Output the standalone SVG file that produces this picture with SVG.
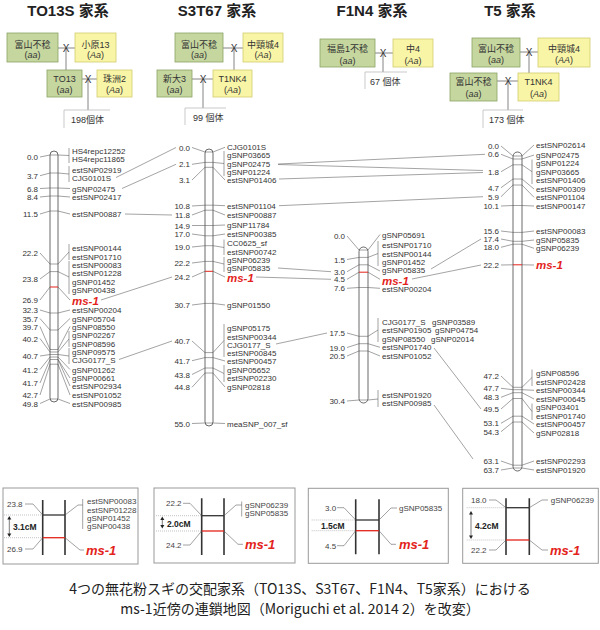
<svg xmlns="http://www.w3.org/2000/svg" width="600" height="630" viewBox="0 0 600 630">
<style>
text{font-family:"Liberation Sans",Arial,"Noto Sans CJK JP",sans-serif;fill:#333}
.ttl{font-size:15px;font-weight:bold;text-anchor:middle;fill:#222}
.pt{font-size:9px;text-anchor:middle}
.cnt{font-size:9px}
.xm{font-size:10px;text-anchor:middle;fill:#333}
.g{fill:#c6d69f;stroke:#8ba365;stroke-width:0.8}
.y{fill:#f9f5a6;stroke:#d3cb72;stroke-width:0.8}
.cb{fill:none;stroke:#bbb;stroke-width:0.8}
.pl{fill:none;stroke:#666;stroke-width:0.8}
.l{font-size:8px}
.n{font-size:8px;text-anchor:end}
.ms{font-size:11.5px;font-weight:bold;font-style:italic;fill:#e3231b}
.bar{fill:#fff;stroke:#444;stroke-width:0.8}
.tk{fill:none;stroke:#555;stroke-width:0.55}
.red{fill:none;stroke:#e3231b;stroke-width:1}
.con{fill:none;stroke:#666;stroke-width:0.6}
.box{fill:#fff;stroke:#999;stroke-width:1}
.vb{stroke:#333;stroke-width:1.6}
.hb{stroke:#333;stroke-width:1.3}
.hr{stroke:#e3231b;stroke-width:1.3}
.dot{stroke:#aaa;stroke-width:0.7;stroke-dasharray:1,1}
.bl{font-size:8px;fill:#444}
.cm{font-size:8.5px;font-weight:bold;fill:#222}
.bms{font-size:13px;font-weight:bold;font-style:italic;fill:#e3231b}
.cap{font-family:"Noto Sans CJK JP","Noto Sans CJK SC",sans-serif;font-size:14px;text-anchor:middle;fill:#222}
.it{font-style:italic}
</style>
<defs>
<path id="up" d="M-2,2.5 L2,2.5 L0,-1 Z" fill="#222"/>
<path id="dn" d="M-2,-2.5 L2,-2.5 L0,1 Z" fill="#222"/>
</defs>

<g id="titles">
<text class="ttl" x="68" y="16">TO13S 家系</text>
<text class="ttl" x="217" y="16">S3T67 家系</text>
<text class="ttl" x="372" y="16">F1N4 家系</text>
<text class="ttl" x="510" y="16">T5 家系</text>
</g>

<g id="pedigree-lines">
<path class="pl" d="M58,48 H75 M66,48 V70 M82,79 H97 M88,79 V110"/>
<path class="pl" d="M223,48 H243 M234,48 V70 M192,79 H213 M203,79 V108"/>
<path class="pl" d="M375,53 H393 M383,53 V72"/>
<path class="pl" d="M520,52 H538 M529,52 V73 M497,81 H518 M508,81 V110"/>
</g>

<g id="p-toyama1"><rect class="g" x="7" y="33" width="51" height="29"/><text class="pt" x="32.5" y="48">富山不稔</text><text class="pt" x="32.5" y="58">(<tspan class="it">aa</tspan>)</text></g>
<g id="p-ohara13"><rect class="y" x="75" y="33" width="41" height="29"/><text class="pt" x="95.5" y="48">小原13</text><text class="pt" x="95.5" y="58">(<tspan class="it">Aa</tspan>)</text></g>
<g id="p-to13"><rect class="g" x="47" y="70" width="35" height="27"/><text class="pt" x="64.5" y="82">TO13</text><text class="pt" x="64.5" y="93">(<tspan class="it">aa</tspan>)</text></g>
<g id="p-suzu2"><rect class="y" x="97" y="70" width="35" height="27"/><text class="pt" x="114.5" y="82">珠洲2</text><text class="pt" x="114.5" y="93">(<tspan class="it">Aa</tspan>)</text></g>
<g id="p-n198"><path class="cb" d="M64,128 V110 H110"/><text class="cnt" x="71" y="123">198個体</text></g>
<g id="x1"><text class="xm" x="66" y="52">X</text><text class="xm" x="88" y="83">X</text></g>

<g id="p-toyama2"><rect class="g" x="175" y="33" width="48" height="29"/><text class="pt" x="199" y="48">富山不稔</text><text class="pt" x="199" y="58">(<tspan class="it">aa</tspan>)</text></g>
<g id="p-nakakubiki1"><rect class="y" x="243" y="33" width="40" height="29"/><text class="pt" x="263" y="48">中頸城4</text><text class="pt" x="263" y="58">(<tspan class="it">Aa</tspan>)</text></g>
<g id="p-shinta3"><rect class="g" x="157" y="70" width="35" height="27"/><text class="pt" x="174.5" y="82">新大3</text><text class="pt" x="174.5" y="93">(<tspan class="it">aa</tspan>)</text></g>
<g id="p-t1nk4a"><rect class="y" x="213" y="70" width="39" height="27"/><text class="pt" x="232.5" y="82">T1NK4</text><text class="pt" x="232.5" y="93">(<tspan class="it">Aa</tspan>)</text></g>
<g id="p-n99"><path class="cb" d="M185,125 V108 H226"/><text class="cnt" x="193" y="121">99 個体</text></g>
<g id="x2"><text class="xm" x="234" y="52">X</text><text class="xm" x="203" y="83">X</text></g>

<g id="p-fukushima"><rect class="g" x="320" y="39" width="55" height="28"/><text class="pt" x="347.5" y="51.5">福島1不稔</text><text class="pt" x="347.5" y="64">(<tspan class="it">aa</tspan>)</text></g>
<g id="p-naka4"><rect class="y" x="393" y="39" width="40" height="28"/><text class="pt" x="413" y="51.5">中4</text><text class="pt" x="413" y="64">(<tspan class="it">Aa</tspan>)</text></g>
<g id="p-n67"><path class="cb" d="M365,89 V72 H407"/><text class="cnt" x="370" y="85">67 個体</text></g>
<g id="x3"><text class="xm" x="383" y="57">X</text></g>

<g id="p-toyama3"><rect class="g" x="472" y="38" width="48" height="29"/><text class="pt" x="496" y="51.5">富山不稔</text><text class="pt" x="496" y="62.5">(<tspan class="it">aa</tspan>)</text></g>
<g id="p-nakakubiki2"><rect class="y" x="538" y="38" width="52" height="29"/><text class="pt" x="564" y="51.5">中頸城4</text><text class="pt" x="564" y="62.5">(<tspan class="it">AA</tspan>)</text></g>
<g id="p-toyama4"><rect class="g" x="450" y="73" width="47" height="28"/><text class="pt" x="473.5" y="85">富山不稔</text><text class="pt" x="473.5" y="96.5">(<tspan class="it">aa</tspan>)</text></g>
<g id="p-t1nk4b"><rect class="y" x="518" y="73" width="41" height="28"/><text class="pt" x="538.5" y="85">T1NK4</text><text class="pt" x="538.5" y="96.5">(<tspan class="it">Aa</tspan>)</text></g>
<g id="p-n173"><path class="cb" d="M483,128 V110 H523"/><text class="cnt" x="489" y="122.5">173 個体</text></g>
<g id="x4"><text class="xm" x="529" y="56">X</text><text class="xm" x="508" y="85">X</text></g>

<g id="connectors">
<path class="con" d="M116,177.5 L176,147.5 M122,188.5 L176,164.3 M125,214 L172,215 M101,300 L172,277 M119,359.5 L172,341"/>
<path class="con" d="M278,164 L485,154.3 M278,164.5 L483,170.5 M279,179 L483,172.5 M279,205.7 L483,196.7"/>
<path class="con" d="M278,268 L331,271.7 M256,277 L331,279.3 M276,344 L327,333"/>
<path class="con" d="M431,269 L481,239 M412,279 L481,265 M434,348 L481,409 M434,405 L473,459"/>
</g>

<g id="map-TO13S">
<rect class="bar" x="50" y="151" width="8" height="251" rx="4"/>
<path class="tk" d="M40,157 L50,155 H58 L69,155.5 M69,148 V163
M40,175.7 L50,173 H58 L69,174 M69,166 V182
M40,188.5 L50,188 H58 L70,188.5
M40,197 L50,196 H58 L70,197
M40,214 L50,211 H58 L70,214
M40,253 L50,264 H58 L69,252 M69,244 V260
M40,279 L50,271.6 H58 L69,277 M69,261 V294
M40,300 L50,287 M58,287 L70,300
M40,310 L50,313 H58 L70,310
M40,318.5 L50,330 H58 L70,318.5
M40,326.5 L50,349.5 H58 L70,326.5
M40,338.5 L50,352 H58 L69,339 M69,331 V347
M40,356 L50,354.5 H58 L69,356 M69,348 V364
M40,369.5 L50,357 H58 L70,369.5
M40,383 L50,359.5 H58 L70,378 M58,359.5 L70,386
M40,395 L50,364.2 H58 L70,395
M40,403.5 L50,399 H58 L70,403.5"/>
<path class="red" d="M50,287 H58"/>
<text class="n" x="38" y="160">0.0</text><text class="n" x="38" y="178.7">3.7</text><text class="n" x="38" y="191.5">6.8</text><text class="n" x="38" y="200">8.4</text><text class="n" x="38" y="217">11.5</text><text class="n" x="38" y="256">22.2</text><text class="n" x="38" y="282">23.8</text><text class="n" x="38" y="303">26.9</text><text class="n" x="38" y="313">32.3</text><text class="n" x="38" y="321.5">35.7</text><text class="n" x="38" y="329.5">39.7</text><text class="n" x="38" y="341.5">40.2</text><text class="n" x="38" y="359">40.7</text><text class="n" x="38" y="372.5">41.2</text><text class="n" x="38" y="386">41.7</text><text class="n" x="38" y="398">42.7</text><text class="n" x="38" y="406.5">49.8</text>
<text class="l" x="72" y="154">HS4repc12252</text><text class="l" x="72" y="162.3">HS4repc11865</text><text class="l" x="72" y="173">estSNP02919</text><text class="l" x="72" y="181">CJG0101S</text><text class="l" x="72" y="191.5">gSNP02475</text><text class="l" x="72" y="200">estSNP02417</text><text class="l" x="72" y="217">estSNP00887</text><text class="l" x="72" y="251">estSNP00144</text><text class="l" x="72" y="259.5">estSNP01710</text><text class="l" x="72" y="267.5">estSNP00083</text><text class="l" x="72" y="276">estSNP01228</text><text class="l" x="72" y="284.5">gSNP01452</text><text class="l" x="72" y="293">gSNP00438</text><text class="ms" x="72" y="304.5">ms-1</text><text class="l" x="72" y="313.3">estSNP00204</text><text class="l" x="72" y="321.5">gSNP05704</text><text class="l" x="72" y="329.5">gSNP08550</text><text class="l" x="72" y="338">gSNP02267</text><text class="l" x="72" y="346.5">gSNP08596</text><text class="l" x="72" y="355">gSNP09575</text><text class="l" x="72" y="363">CJG0177_S</text><text class="l" x="72" y="372.5">gSNP01262</text><text class="l" x="72" y="381">gSNP00661</text><text class="l" x="72" y="389">estSNP02934</text><text class="l" x="72" y="398">estSNP01052</text><text class="l" x="72" y="406.5">estSNP00985</text>
</g>

<g id="map-S3T67">
<rect class="bar" x="205" y="149" width="8" height="277" rx="4"/>
<path class="tk" d="M192,147.5 L205,152 H213 L225,147.3
M192,164.3 L205,162.4 H213 L224,163.5 M224,151 V176
M192,180 L205,167.3 H213 L225,180
M192,206 L205,205.2 H213 L225,205.7
M192,215 L205,210.2 H213 L225,215
M192,225.5 L205,225.5 H213 L225,225
M192,234 L205,235.8 H213 L225,234
M192,247 L205,245.7 H213 L224,247.5 M224,239.5 V255
M192,263 L205,261.4 H213 L224,264 M224,257 V272
M192,277 L205,271.3 M213,271.3 L225,277
M192,305 L205,303.4 H213 L225,305
M192,341 L205,352.6 H213 L224,340.5 M224,324 V357
M192,360.7 L205,357.6 H213 L225,361
M192,374.5 L205,368 H213 L224,373.5 M224,365 V382
M192,387.3 L205,373 H213 L225,387
M192,423.5 L205,423 H213 L225,423.5"/>
<path class="red" d="M205,271.3 H213"/>
<text class="n" x="190" y="150.5">0.0</text><text class="n" x="190" y="167.3">2.1</text><text class="n" x="190" y="183">3.1</text><text class="n" x="190" y="209">10.8</text><text class="n" x="190" y="218">11.8</text><text class="n" x="190" y="228.5">14.9</text><text class="n" x="190" y="237">17.0</text><text class="n" x="190" y="250">19.0</text><text class="n" x="190" y="266">22.2</text><text class="n" x="190" y="280">24.2</text><text class="n" x="190" y="308">30.7</text><text class="n" x="190" y="344">40.7</text><text class="n" x="190" y="363.7">41.7</text><text class="n" x="190" y="377.5">43.8</text><text class="n" x="190" y="390.3">44.8</text><text class="n" x="190" y="426.5">55.0</text>
<text class="l" x="227" y="150.3">CJG0101S</text><text class="l" x="227" y="158">gSNP03665</text><text class="l" x="227" y="166.7">gSNP02475</text><text class="l" x="227" y="175">gSNP01224</text><text class="l" x="227" y="183">estSNP01406</text><text class="l" x="227" y="208.7">estSNP01104</text><text class="l" x="227" y="218">estSNP00887</text><text class="l" x="227" y="228">gSNP11784</text><text class="l" x="227" y="237">estSNP00385</text><text class="l" x="227" y="246">CC0625_sf</text><text class="l" x="227" y="254.7">estSNP00742</text><text class="l" x="227" y="262.5">gSNP06239</text><text class="l" x="227" y="270.7">gSNP05835</text><text class="ms" x="227" y="282">ms-1</text><text class="l" x="227" y="308">gSNP01550</text><text class="l" x="227" y="331.3">gSNP05175</text><text class="l" x="227" y="339.7">estSNP00344</text><text class="l" x="227" y="347.5">CJG0177_S</text><text class="l" x="227" y="356">estSNP00845</text><text class="l" x="227" y="364">estSNP00457</text><text class="l" x="227" y="372.5">gSNP05652</text><text class="l" x="227" y="381">estSNP02230</text><text class="l" x="227" y="390">gSNP02818</text><text class="l" x="227" y="426.5">meaSNP_007_sf</text>
</g>

<g id="map-F1N4">
<rect class="bar" x="359" y="247" width="9" height="156" rx="4.5"/>
<path class="tk" d="M347,236 L359,250 H368 L380,234.5
M347,259.5 L359,257.4 H368 L378,253.5 M378,241 V266
M347,271.7 L359,264.8 H368 L380,271
M347,279.3 L359,272.2 M368,272.2 L380,279.3
M347,288.3 L359,287.5 H368 L380,288.3
M347,333 L359,336.3 H368 L378,330 M378,318 V342
M347,347.5 L359,343.7 H368 L380,347.3
M347,356 L359,351 H368 L380,356
M347,401 L359,400 H368 L378,399 M378,390 V407"/>
<path class="red" d="M359,272.2 H368"/>
<text class="n" x="345" y="239">0.0</text><text class="n" x="345" y="262.5">1.5</text><text class="n" x="345" y="274.7">3.0</text><text class="n" x="345" y="282.3">4.5</text><text class="n" x="345" y="291.3">7.6</text><text class="n" x="345" y="336">17.5</text><text class="n" x="345" y="350.5">19.0</text><text class="n" x="345" y="359">20.5</text><text class="n" x="345" y="404">30.4</text>
<text class="l" x="382" y="237.5">gSNP05691</text><text class="l" x="382" y="248">estSNP01710</text><text class="l" x="382" y="256.5">estSNP00144</text><text class="l" x="382" y="265">gSNP01452</text><text class="l" x="382" y="273.3">gSNP05835</text><text class="ms" x="382" y="284.5">ms-1</text><text class="l" x="382" y="292">estSNP00204</text><text class="l" x="382" y="325">CJG0177_S</text><text class="l" x="382" y="333">estSNP01905</text><text class="l" x="382" y="341.5">gSNP08550</text><text class="l" x="432" y="325">gSNP03589</text><text class="l" x="435" y="333">gSNP04754</text><text class="l" x="431" y="341.5">gSNP02014</text><text class="l" x="382" y="350.3">estSNP01740</text><text class="l" x="382" y="359">estSNP01052</text><text class="l" x="382" y="397.7">estSNP01920</text><text class="l" x="382" y="406">estSNP00985</text>
</g>

<g id="map-T5">
<rect class="bar" x="513" y="152" width="9" height="319" rx="4.5"/>
<path class="tk" d="M501,146 L513,156 H522 L534,145
M501,154.3 L513,159 H522 L534,155
M501,171.7 L513,164.8 H522 L532,171.7 M532,159.5 V184
M501,187.7 L513,179 H522 L534,189
M501,196.7 L513,185 H522 L534,197.3
M501,206 L513,205.5 H522 L534,206
M501,231 L513,232.4 H522 L534,231
M501,239 L513,241.3 H522 L534,240
M501,247.3 L513,244.2 H522 L534,248.3
M501,265 L513,264.8 M522,264.8 L534,265
M501,376 L513,387.3 H522 L532,377.5 M532,369.5 V386
M501,388.3 L513,389.7 H522 L534,390.3
M501,397.3 L513,392.7 H522 L534,399
M501,409 L513,398.5 H522 L532,411.5 M532,403.5 V420
M501,423.3 L513,416.2 H522 L534,424
M501,431.7 L513,422 H522 L534,433
M501,461 L513,465.2 H522 L534,461
M501,470 L513,468 H522 L534,470"/>
<path class="red" d="M513,264.8 H522"/>
<text class="n" x="499" y="149">0.0</text><text class="n" x="499" y="157.3">0.6</text><text class="n" x="499" y="174.7">1.8</text><text class="n" x="499" y="190.7">4.7</text><text class="n" x="499" y="199.7">5.9</text><text class="n" x="499" y="209">10.1</text><text class="n" x="499" y="234">15.6</text><text class="n" x="499" y="242">17.4</text><text class="n" x="499" y="250.3">18.0</text><text class="n" x="499" y="268">22.2</text><text class="n" x="499" y="379">47.2</text><text class="n" x="499" y="391.3">47.7</text><text class="n" x="499" y="400.3">48.3</text><text class="n" x="499" y="412">49.5</text><text class="n" x="499" y="426.3">53.1</text><text class="n" x="499" y="434.7">54.3</text><text class="n" x="499" y="464">63.1</text><text class="n" x="499" y="473">63.7</text>
<text class="l" x="536" y="148">estSNP02614</text><text class="l" x="536" y="158">gSNP02475</text><text class="l" x="536" y="166.3">gSNP01224</text><text class="l" x="536" y="175">gSNP03665</text><text class="l" x="536" y="183.3">estSNP01406</text><text class="l" x="536" y="192">estSNP00309</text><text class="l" x="536" y="200.3">estSNP01104</text><text class="l" x="536" y="209">estSNP00147</text><text class="l" x="536" y="234">estSNP00083</text><text class="l" x="536" y="243">gSNP05835</text><text class="l" x="536" y="251.3">gSNP06239</text><text class="ms" x="536" y="269">ms-1</text><text class="l" x="536" y="376.3">gSNP08596</text><text class="l" x="536" y="385">estSNP02428</text><text class="l" x="536" y="393.3">estSNP00344</text><text class="l" x="536" y="402">estSNP00645</text><text class="l" x="536" y="410.3">gSNP03401</text><text class="l" x="536" y="419">estSNP01740</text><text class="l" x="536" y="427">estSNP00457</text><text class="l" x="536" y="436">gSNP02818</text><text class="l" x="536" y="464">estSNP02293</text><text class="l" x="536" y="473">estSNP01920</text>
</g>

<g id="detail-TO13S">
<rect class="box" x="3" y="488" width="135" height="76"/>
<path class="dot" d="M4,515 H42.7 M4,537.7 H42.7"/>
<path class="vb" d="M42.7,500 V555 M65,500 V555"/>
<path class="hb" d="M42.7,515 H65"/><path class="hr" d="M42.7,537.7 H65"/>
<path class="tk" d="M25,504 H33 L42.7,515 M25,549 H33 L42.7,537.7 M65,515 L78,505 H82.7 M82.7,499 V529 M65,537.7 L80,550 H84"/>
<path d="M9.3,518 V535" stroke="#222" stroke-width="0.6"/><use href="#up" x="9.3" y="517"/><use href="#dn" x="9.3" y="536"/>
<text class="bl" x="7" y="507">23.8</text><text class="bl" x="7" y="552">26.9</text>
<text class="cm" x="13" y="529.5">3.1cM</text>
<text class="bl" x="87" y="504.3">estSNP00083</text><text class="bl" x="87" y="512.5">estSNP01228</text><text class="bl" x="87" y="520.7">gSNP01452</text><text class="bl" x="87" y="529">gSNP00438</text>
<text class="bms" x="86" y="554.5">ms-1</text>
</g>

<g id="detail-S3T67">
<rect class="box" x="154" y="488" width="141" height="75"/>
<path class="dot" d="M156,515.7 H201.7 M156,531 H201.7"/>
<path class="vb" d="M201.7,498.3 V555 M224,498.3 V555"/>
<path class="hb" d="M201.7,515.7 H224"/><path class="hr" d="M201.7,531 H224"/>
<path class="tk" d="M183,503.3 H190 L201.7,515.7 M183,545 H190 L201.7,531 M224,515.7 L236,505 H241.7 M241.7,501.5 V516.5 M224,531 L238,544.3 H243"/>
<path d="M162.3,518.5 V526.5" stroke="#222" stroke-width="0.6"/><use href="#up" x="162.3" y="517.5"/><use href="#dn" x="162.3" y="527.5"/>
<text class="bl" x="166" y="506.3">22.2</text><text class="bl" x="166" y="548">24.2</text>
<text class="cm" x="167" y="527">2.0cM</text>
<text class="bl" x="245" y="507.5">gSNP06239</text><text class="bl" x="245" y="515.8">gSNP05835</text>
<text class="bms" x="245" y="549">ms-1</text>
</g>

<g id="detail-F1N4">
<rect class="box" x="308.3" y="488.3" width="140" height="75"/>
<path class="dot" d="M311.7,520 H355.7 M311.7,530.7 H355.7"/>
<path class="vb" d="M355.7,499.3 V554.3 M379,499.3 V554.3"/>
<path class="hb" d="M355.7,520 H379"/><path class="hr" d="M355.7,530.7 H379"/>
<path class="tk" d="M337,507.7 H344 L355.7,520 M337,545.7 H344 L355.7,530.7 M379,520 L391,508 H397 M379,530.7 L391,544.3 H396"/>
<text class="bl" x="325" y="510.7">3.0</text><text class="bl" x="325" y="548.7">4.5</text>
<text class="cm" x="321" y="528.7">1.5cM</text>
<text class="bl" x="399" y="510.7">gSNP05835</text>
<text class="bms" x="399" y="549">ms-1</text>
</g>

<g id="detail-T5">
<rect class="box" x="462.7" y="488.3" width="135.6" height="75"/>
<path class="dot" d="M466.7,507.7 H506 M466.7,540 H506"/>
<path class="vb" d="M506,498.3 V555 M529.3,498.3 V555"/>
<path class="hb" d="M506,507.7 H529.3"/><path class="hr" d="M506,540 H529.3"/>
<path class="tk" d="M489,500 H496 L506,507.7 M489,550 H496 L506,540 M529.3,507.7 L542,500 H548 M529.3,540 L542,550 H548"/>
<path d="M471,513 V537" stroke="#222" stroke-width="0.6"/><use href="#up" x="471" y="512"/><use href="#dn" x="471" y="538"/>
<text class="bl" x="471" y="503">18.0</text><text class="bl" x="471" y="553">22.2</text>
<text class="cm" x="475" y="528.7">4.2cM</text>
<text class="bl" x="550.7" y="503">gSNP06239</text>
<text class="bms" x="550" y="554.5">ms-1</text>
</g>

<g id="caption">
<text class="cap" x="300" y="594">4つの無花粉スギの交配家系（TO13S、S3T67、F1N4、T5家系）における</text>
<text class="cap" x="300" y="614">ms-1近傍の連鎖地図（Moriguchi et al. 2014 2）を改変）</text>
</g>
</svg>
